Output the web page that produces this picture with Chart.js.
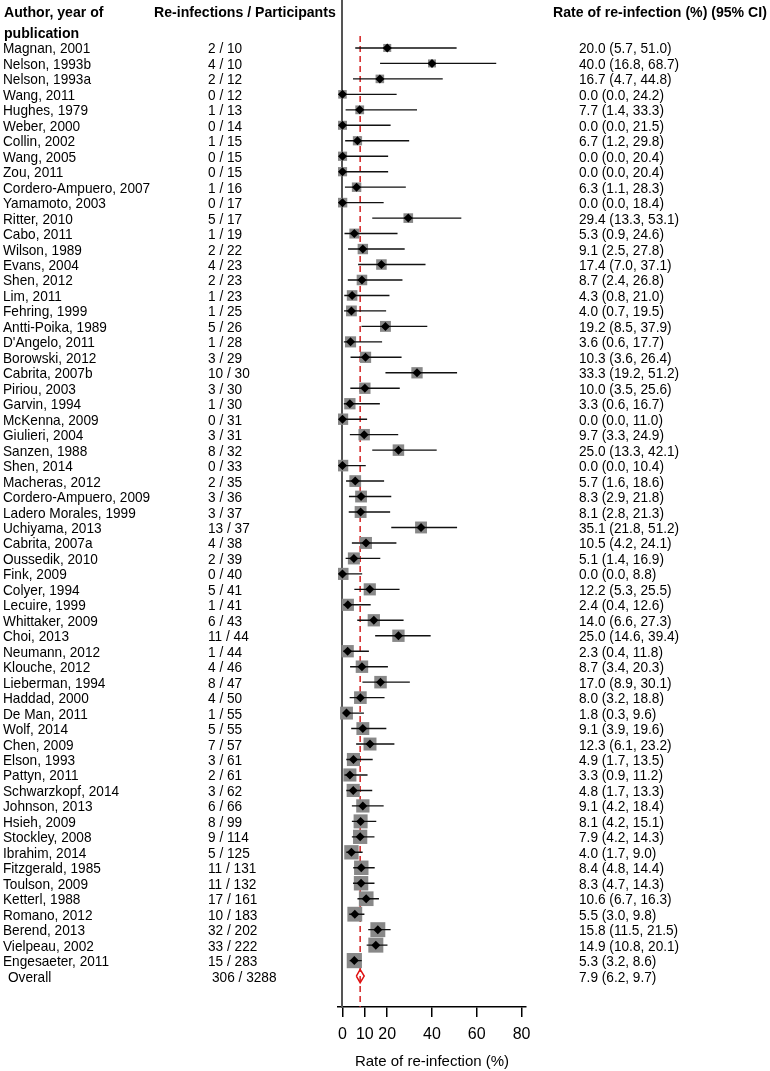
<!DOCTYPE html>
<html>
<head>
<meta charset="utf-8">
<script src="https://cdn.jsdelivr.net/npm/chart.js@4/dist/chart.umd.min.js"></script>
<style>
  html, body { margin: 0; padding: 0; background: #fff; }
  #wrap { width: 770px; height: 1071px; }
</style>
</head>
<body>
<div id="wrap"><canvas id="forest" width="770" height="1071"></canvas></div>
<script>
// Study data, top to bottom as in the figure
const authors = [
  'Magnan, 2001', 'Nelson, 1993b', 'Nelson, 1993a', 'Wang, 2011', 'Hughes, 1979',
  'Weber, 2000', 'Collin, 2002', 'Wang, 2005', 'Zou, 2011', 'Cordero-Ampuero, 2007',
  'Yamamoto, 2003', 'Ritter, 2010', 'Cabo, 2011', 'Wilson, 1989', 'Evans, 2004',
  'Shen, 2012', 'Lim, 2011', 'Fehring, 1999', 'Antti-Poika, 1989', "D'Angelo, 2011",
  'Borowski, 2012', 'Cabrita, 2007b', 'Piriou, 2003', 'Garvin, 1994', 'McKenna, 2009',
  'Giulieri, 2004', 'Sanzen, 1988', 'Shen, 2014', 'Macheras, 2012', 'Cordero-Ampuero, 2009',
  'Ladero Morales, 1999', 'Uchiyama, 2013', 'Cabrita, 2007a', 'Oussedik, 2010', 'Fink, 2009',
  'Colyer, 1994', 'Lecuire, 1999', 'Whittaker, 2009', 'Choi, 2013', 'Neumann, 2012',
  'Klouche, 2012', 'Lieberman, 1994', 'Haddad, 2000', 'De Man, 2011', 'Wolf, 2014',
  'Chen, 2009', 'Elson, 1993', 'Pattyn, 2011', 'Schwarzkopf, 2014', 'Johnson, 2013',
  'Hsieh, 2009', 'Stockley, 2008', 'Ibrahim, 2014', 'Fitzgerald, 1985', 'Toulson, 2009',
  'Ketterl, 1988', 'Romano, 2012', 'Berend, 2013', 'Vielpeau, 2002', 'Engesaeter, 2011'
];
const events = [
  2, 4, 2, 0, 1, 0, 1, 0, 0, 1,
  0, 5, 1, 2, 4, 2, 1, 1, 5, 1,
  3, 10, 3, 1, 0, 3, 8, 0, 2, 3,
  3, 13, 4, 2, 0, 5, 1, 6, 11, 1,
  4, 8, 4, 1, 5, 7, 3, 2, 3, 6,
  8, 9, 5, 11, 11, 17, 10, 32, 33, 15
];
const participants = [
  10, 10, 12, 12, 13, 14, 15, 15, 15, 16,
  17, 17, 19, 22, 23, 23, 23, 25, 26, 28,
  29, 30, 30, 30, 31, 31, 32, 33, 35, 36,
  37, 37, 38, 39, 40, 41, 41, 43, 44, 44,
  46, 47, 50, 55, 55, 57, 61, 61, 62, 66,
  99, 114, 125, 131, 132, 161, 183, 202, 222, 283
];
const rates = [
  20.0, 40.0, 16.7, 0.0, 7.7, 0.0, 6.7, 0.0, 0.0, 6.3,
  0.0, 29.4, 5.3, 9.1, 17.4, 8.7, 4.3, 4.0, 19.2, 3.6,
  10.3, 33.3, 10.0, 3.3, 0.0, 9.7, 25.0, 0.0, 5.7, 8.3,
  8.1, 35.1, 10.5, 5.1, 0.0, 12.2, 2.4, 14.0, 25.0, 2.3,
  8.7, 17.0, 8.0, 1.8, 9.1, 12.3, 4.9, 3.3, 4.8, 9.1,
  8.1, 7.9, 4.0, 8.4, 8.3, 10.6, 5.5, 15.8, 14.9, 5.3
];
const lower = [
  5.7, 16.8, 4.7, 0.0, 1.4, 0.0, 1.2, 0.0, 0.0, 1.1,
  0.0, 13.3, 0.9, 2.5, 7.0, 2.4, 0.8, 0.7, 8.5, 0.6,
  3.6, 19.2, 3.5, 0.6, 0.0, 3.3, 13.3, 0.0, 1.6, 2.9,
  2.8, 21.8, 4.2, 1.4, 0.0, 5.3, 0.4, 6.6, 14.6, 0.4,
  3.4, 8.9, 3.2, 0.3, 3.9, 6.1, 1.7, 0.9, 1.7, 4.2,
  4.2, 4.2, 1.7, 4.8, 4.7, 6.7, 3.0, 11.5, 10.8, 3.2
];
const upper = [
  51.0, 68.7, 44.8, 24.2, 33.3, 21.5, 29.8, 20.4, 20.4, 28.3,
  18.4, 53.1, 24.6, 27.8, 37.1, 26.8, 21.0, 19.5, 37.9, 17.7,
  26.4, 51.2, 25.6, 16.7, 11.0, 24.9, 42.1, 10.4, 18.6, 21.8,
  21.3, 51.2, 24.1, 16.9, 8.8, 25.5, 12.6, 27.3, 39.4, 11.8,
  20.3, 30.1, 18.8, 9.6, 19.6, 23.2, 13.5, 11.2, 13.3, 18.4,
  15.1, 14.3, 9.0, 14.4, 14.3, 16.3, 9.8, 21.5, 20.1, 8.6
];

// Pooled estimate
const overallLabel = 'Overall';
const overallEvents = 306;
const overallN = 3288;
const overallRate = 7.9;
const overallLower = 6.2;
const overallUpper = 9.7;

const xTicks = [0, 10, 20, 40, 60, 80];

// ------------------------------------------------------------
const FONT = '"Liberation Sans", Arial, Helvetica, sans-serif';
const SX = 0.91;              // text in the figure is a bit narrow
const SX_HEAD = 0.94;
const overallRow = authors.length;

function squareSide(n) {
  // random-effects style weight: grows with n, then levels off
  return 16 * Math.sqrt(n / (n + 30));
}

function fmt(r, lo, hi) {
  return r.toFixed(1) + ' (' + lo.toFixed(1) + ', ' + hi.toFixed(1) + ')';
}

// CI segments, broken with null points
const ciData = [];
for (let i = 0; i < authors.length; i++) {
  ciData.push({ x: lower[i], y: i });
  ciData.push({ x: upper[i], y: i });
  ciData.push({ x: null, y: null });
}

const pointData = rates.map((r, i) => ({ x: r, y: i }));

const overallDiamond = [
  { x: overallLower, y: overallRow },
  { x: overallRate, y: overallRow - 0.43 },
  { x: overallUpper, y: overallRow },
  { x: overallRate, y: overallRow + 0.43 },
  { x: overallLower, y: overallRow }
];

const yMin = -3.1;
const yMax = 62;

// text columns drawn next to the plot, rows placed with the y scale
const textColumns = {
  id: 'textColumns',
  afterDraw(chart) {
    const ctx = chart.ctx;
    const yScale = chart.scales.y;

    function put(str, x, y, bold) {
      ctx.save();
      ctx.font = (bold ? 'bold ' : '') + '15px ' + FONT;
      ctx.fillStyle = '#000';
      ctx.textBaseline = 'alphabetic';
      ctx.textAlign = 'left';
      ctx.translate(x, y);
      ctx.scale(bold ? SX_HEAD : SX, 1);
      ctx.fillText(str, 0, 0);
      ctx.restore();
    }

    // headers
    put('Author, year of', 4, 17, true);
    put('publication', 4, 38, true);
    put('Re-infections / Participants', 154, 17, true);
    put('Rate of re-infection (%) (95% CI)', 553, 17, true);

    for (let i = 0; i < authors.length; i++) {
      const y = yScale.getPixelForValue(i) + 5.5;
      put(authors[i], 3, y);
      put(events[i] + ' / ' + participants[i], 208, y);
      put(fmt(rates[i], lower[i], upper[i]), 579, y);
    }
    const yo = yScale.getPixelForValue(overallRow) + 5.5;
    put(overallLabel, 8, yo);
    put(overallEvents + ' / ' + overallN, 212, yo);
    put(fmt(overallRate, overallLower, overallUpper), 579, yo);
  }
};

new Chart(document.getElementById('forest'), {
  type: 'scatter',
  data: {
    datasets: [
      {
        label: 'Estimate',
        data: pointData,
        pointStyle: 'rectRot',
        pointRadius: 4.5,
        backgroundColor: '#000',
        borderWidth: 0,
        order: 0
      },
      {
        label: 'Overall',
        data: overallDiamond,
        showLine: true,
        pointRadius: 0,
        borderColor: '#e01010',
        borderWidth: 1.5,
        fill: false,
        tension: 0,
        order: 0
      },
      {
        label: '95% CI',
        data: ciData,
        showLine: true,
        spanGaps: false,
        pointRadius: 0,
        borderColor: '#111',
        borderWidth: 1.4,
        order: 1
      },
      {
        label: 'Weight',
        data: pointData,
        pointStyle: 'rect',
        pointRadius: ctx => squareSide(participants[ctx.dataIndex]) / Math.SQRT2,
        backgroundColor: '#888888',
        borderWidth: 0,
        order: 2
      },
      {
        label: 'Pooled rate',
        data: [{ x: overallRate, y: -0.78 }, { x: overallRate, y: yMax }],
        showLine: true,
        pointRadius: 0,
        borderColor: '#d42020',
        borderWidth: 1.5,
        borderDash: [6, 4],
        order: 3
      }
    ]
  },
  options: {
    responsive: false,
    animation: false,
    events: [],
    layout: { autoPadding: false, padding: { left: 338, right: 244, top: 0, bottom: 0 } },
    plugins: {
      legend: { display: false },
      tooltip: { enabled: false }
    },
    scales: {
      x: {
        type: 'linear',
        position: 'bottom',
        min: -2,
        max: 82,
        afterBuildTicks: scale => { scale.ticks = xTicks.map(v => ({ value: v })); },
        afterFit: scale => { scale.height = 64; },
        grid: { display: true, drawOnChartArea: false, drawTicks: true, tickLength: 10, color: '#000', lineWidth: 1.5 },
        border: { display: true, color: '#000', width: 1.5 },
        ticks: { color: '#000', padding: 8, font: { family: FONT, size: 16 }, maxRotation: 0 },
        title: {
          display: true,
          text: 'Rate of re-infection (%)',
          color: '#000',
          font: { family: FONT, size: 15 },
          padding: { top: 4, bottom: 0 }
        }
      },
      y: {
        type: 'linear',
        position: { x: 0 },
        reverse: true,
        min: yMin,
        max: yMax,
        ticks: { display: false },
        grid: { display: false },
        border: { display: true, color: '#555', width: 2 }
      }
    }
  },
  plugins: [textColumns]
});
</script>
</body>
</html>
